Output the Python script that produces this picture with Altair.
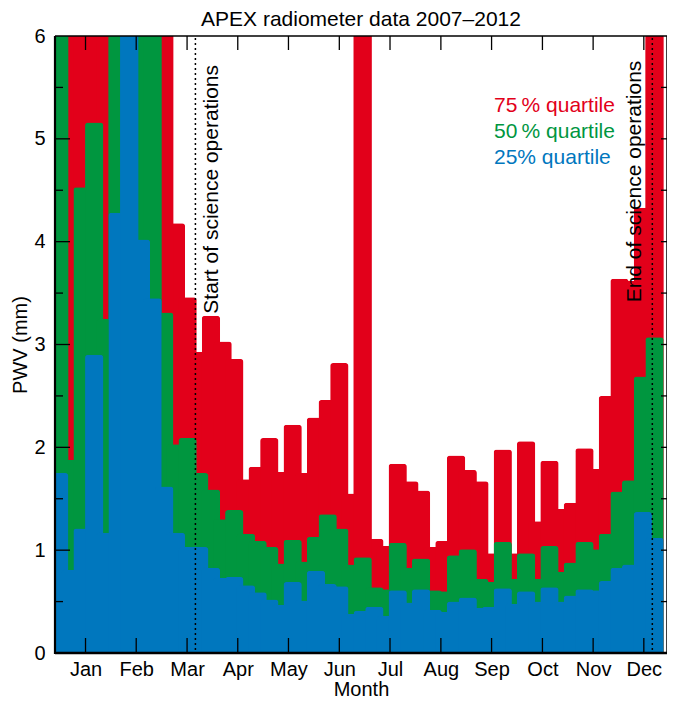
import altair as alt
import pandas as pd

# ---- data (weekly quartiles of PWV, mm) ----
weeks = list(range(52))
q75 = [7.5, 8.0, 7.8, 7.6, 7.0, 8.5, 9.0, 8.2, 7.4, 6.6, 4.18, 3.46, 2.93, 3.28, 3.03, 2.86,
       1.69, 1.81, 2.09, 1.76, 2.22, 1.75, 2.29, 2.46, 2.82, 1.55, 6.8, 1.11, 1.04, 1.84,
       1.67, 1.58, 1.03, 1.09, 1.92, 1.78, 1.67, 0.97, 1.98, 0.97, 2.06, 1.28, 1.87, 1.40,
       1.46, 1.99, 1.79, 2.50, 3.64, 3.62, 4.33, 6.8]
q50 = [7.5, 1.88, 4.53, 5.16, 3.25, 7.0, 7.5, 6.8, 6.5, 3.31, 2.03, 2.09, 1.75, 1.59, 1.30,
       1.39, 1.16, 1.09, 1.03, 0.87, 1.10, 0.89, 1.13, 1.35, 1.21, 0.86, 0.93, 0.64, 0.62,
       1.07, 0.83, 0.92, 0.61, 0.60, 0.95, 1.01, 0.72, 0.69, 1.08, 0.72, 0.97, 0.72, 1.04,
       0.79, 0.88, 1.08, 1.01, 1.16, 1.57, 1.68, 2.69, 3.07]
q25 = [1.75, 0.81, 1.21, 2.90, 1.17, 4.28, 6.8, 4.02, 3.45, 1.62, 1.17, 1.03, 1.03, 0.83,
       0.73, 0.74, 0.66, 0.59, 0.52, 0.47, 0.69, 0.51, 0.80, 0.67, 0.65, 0.38, 0.41, 0.45,
       0.36, 0.61, 0.49, 0.62, 0.42, 0.40, 0.50, 0.54, 0.44, 0.45, 0.63, 0.48, 0.60, 0.50,
       0.64, 0.50, 0.56, 0.62, 0.61, 0.70, 0.83, 0.86, 1.37, 1.12]

month_names = ['Jan', 'Feb', 'Mar', 'Apr', 'May', 'Jun', 'Jul', 'Aug', 'Sep', 'Oct', 'Nov', 'Dec']
month_pos = [16.3, 46.7, 77.2, 107.6, 138.0, 168.5, 198.9, 229.4, 259.8, 290.3, 320.7, 351.1]
y_labels = [0, 1, 2, 3, 4, 5, 6]
y_major = [1, 2, 3, 4, 5]
y_minor = [0.5, 1.5, 2.5, 3.5, 4.5, 5.5]
y_right = [0.5, 1, 1.5, 2, 2.5, 3, 3.5, 4, 4.5, 5, 5.5]
event_days = [82.2, 356.2]
event_labels = ['Start of science operations', 'End of science operations']
event_text_start = [3.30, 3.41]   # PWV level where each rotated label begins
legend_labels = ['75\u2009% quartile', '50\u2009% quartile', '25% quartile']

RED, GREEN, BLUE = '#E2001A', '#00963F', '#0077BE'
FONT = 'Liberation Sans'
W, H = 612, 617
FS = 20
YMAX = 6

df = pd.DataFrame({'day': [7 * w + 0.5 for w in weeks], 'q75': q75, 'q50': q50, 'q25': q25})

xs = alt.Scale(domain=[1, 362], nice=False, zero=False)
ys = alt.Scale(domain=[0, YMAX], nice=False, zero=True, clamp=True)

names_js = "[" + ",".join("'%s'" % m for m in month_names) + "]"
xaxis = alt.Axis(values=month_pos,
                 labelExpr=names_js + "[round((datum.value - 16.3) / 30.44)]",
                 title='Month', grid=False, ticks=False, tickSize=0, domain=False,
                 labelFontSize=FS, labelPadding=6, labelColor='black', labelFlush=False,
                 titleFontSize=FS, titlePadding=0, titleFontWeight='normal', titleColor='black')
yaxis = alt.Axis(values=y_labels, title='PWV (mm)', grid=False, ticks=False, tickSize=0,
                 domain=False, labelFontSize=FS, labelPadding=10, labelColor='black',
                 labelFlush=False, titleFontSize=FS, titlePadding=3, titleFontWeight='normal',
                 titleColor='black')


def xenc(field):
    return alt.X(field, scale=xs, axis=xaxis)


def yenc(field):
    return alt.Y(field, scale=ys, axis=yaxis)


def bars(field, color):
    base = alt.Chart(df).encode(x=xenc('day:Q'), y=yenc(field + ':Q'), y2=alt.value(H + 3))
    low = base.mark_bar(orient='vertical', size=18.3, cornerRadiusTopLeft=3,
                        cornerRadiusTopRight=3, color=color).transform_filter(
        'datum.%s < %d' % (field, YMAX))
    high = base.mark_bar(orient='vertical', size=18.3, color=color).transform_filter(
        'datum.%s >= %d' % (field, YMAX))
    return [low, high]


# white strip hiding the part of the first week that spills left of the frame
one = pd.DataFrame({'a': [0]})
mask = alt.Chart(one).mark_rect(color='white').encode(
    x=alt.value(-9.5), x2=alt.value(-1), y=alt.value(-2), y2=alt.value(H + 6))

tick_style = dict(color='black', strokeWidth=1.3)
left_major = alt.Chart(pd.DataFrame({'v': y_major})).mark_rule(**tick_style).encode(
    y=yenc('v:Q'), x=alt.value(0), x2=alt.value(15))
left_minor = alt.Chart(pd.DataFrame({'v': y_minor})).mark_rule(**tick_style).encode(
    y=yenc('v:Q'), x=alt.value(0), x2=alt.value(8))
right_ticks = alt.Chart(pd.DataFrame({'v': y_right})).mark_rule(**tick_style).encode(
    y=yenc('v:Q'), x=alt.value(W - 6), x2=alt.value(W))
mdf = pd.DataFrame({'m': month_pos})
top_ticks = alt.Chart(mdf).mark_rule(**tick_style).encode(
    x=xenc('m:Q'), y=alt.value(0), y2=alt.value(14))
bottom_ticks = alt.Chart(mdf).mark_rule(**tick_style).encode(
    x=xenc('m:Q'), y=alt.value(H - 15), y2=alt.value(H))

frame = [
    alt.Chart(one).mark_rule(color='black', strokeWidth=2.2).encode(
        x=alt.value(0), y=alt.value(0), y2=alt.value(H + 1)),
    alt.Chart(one).mark_rule(color='black', strokeWidth=2.6).encode(
        x=alt.value(0), x2=alt.value(W), y=alt.value(H)),
    alt.Chart(one).mark_rule(color='black', strokeWidth=1.5).encode(
        x=alt.value(0), x2=alt.value(W), y=alt.value(0)),
    alt.Chart(one).mark_rule(color='black', strokeWidth=1.5).encode(
        x=alt.value(W), y=alt.value(0), y2=alt.value(H)),
]

ev = pd.DataFrame({'day': event_days, 'label': event_labels, 'lvl': event_text_start})
ev_lines = alt.Chart(ev).mark_rule(color='black', strokeWidth=1.5, strokeDash=[2, 3]).encode(
    x=xenc('day:Q'), y=alt.value(2), y2=alt.value(H))
start_txt = alt.Chart(ev.iloc[[0]]).mark_text(angle=270, align='left', baseline='middle',
                                              fontSize=21, dy=17, color='black').encode(
    x=xenc('day:Q'), y=yenc('lvl:Q'), text='label:N')
end_txt = alt.Chart(ev.iloc[[1]]).mark_text(angle=270, align='left', baseline='middle',
                                            fontSize=21, dy=-17, color='black').encode(
    x=xenc('day:Q'), y=yenc('lvl:Q'), text='label:N')

legend = []
for lab, col, yy in zip(legend_labels, [RED, GREEN, BLUE], [70, 96, 122]):
    legend.append(alt.Chart(pd.DataFrame({'t': [lab]})).mark_text(
        align='left', baseline='middle', fontSize=21, color=col).encode(
        text='t:N', x=alt.value(439), y=alt.value(yy)))

chart = alt.layer(
    *bars('q75', RED), *bars('q50', GREEN), *bars('q25', BLUE), mask,
    ev_lines, left_major, left_minor, right_ticks, top_ticks, bottom_ticks,
    *frame, start_txt, end_txt, *legend
).properties(
    width=W, height=H,
    title=alt.TitleParams('APEX radiometer data 2007\u20132012', fontSize=21,
                          fontWeight='normal', offset=-4, anchor='middle', color='black'),
    padding={'left': 47, 'top': 28, 'right': 0, 'bottom': 46},
    autosize=alt.AutoSizeParams(type='none'),
).configure(font=FONT).configure_view(stroke=None)

chart.save('out.html', embed_options={'renderer': 'svg', 'actions': False})
